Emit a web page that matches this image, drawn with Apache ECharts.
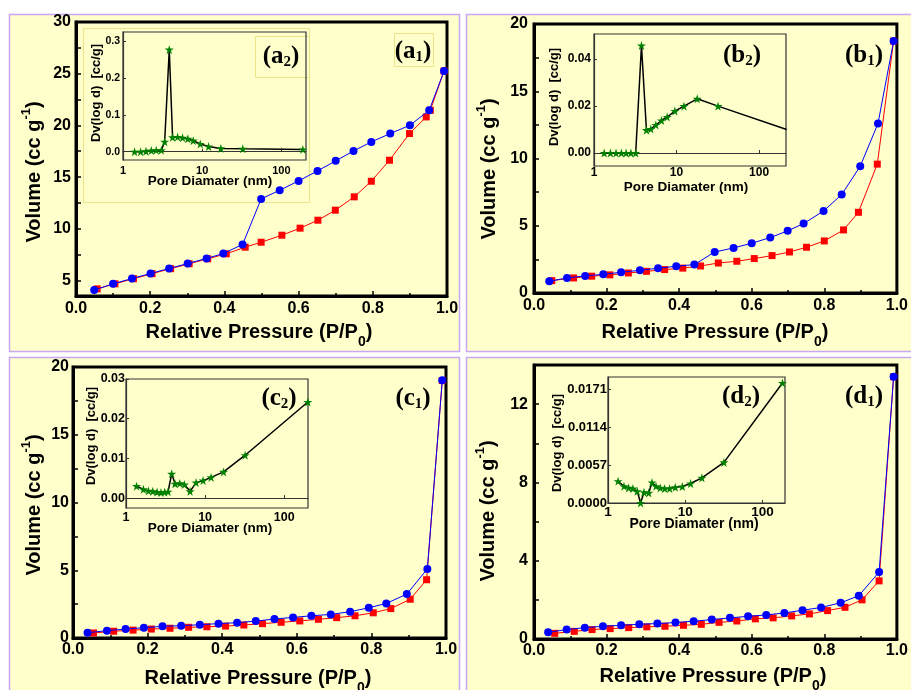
<!DOCTYPE html>
<html><head><meta charset="utf-8">
<script src="https://cdn.jsdelivr.net/npm/echarts@6/dist/echarts.min.js"></script>
<style>html,body{margin:0;padding:0;background:#fff}#c{width:911px;height:690px}</style>
</head><body><div id="c"></div>
<script>
// ---------- Panel (a) ----------
const aPressAds = [0.057,0.105,0.155,0.205,0.255,0.305,0.355,0.405,0.456,0.499,0.555,0.604,0.652,0.699,0.75,0.796,0.845,0.899,0.944,0.955,0.992];
const aVolAds   = [4.19,4.68,5.17,5.66,6.14,6.62,7.10,7.58,8.22,8.70,9.38,10.06,10.83,11.80,13.09,14.60,16.63,19.21,20.82,21.46,25.26];
const aPressDes = [0.049,0.10,0.151,0.201,0.251,0.301,0.352,0.397,0.449,0.499,0.549,0.60,0.651,0.70,0.748,0.796,0.847,0.90,0.952,0.992];
const aVolDes   = [4.07,4.68,5.19,5.68,6.16,6.64,7.13,7.61,8.48,12.89,13.73,14.63,15.60,16.57,17.53,18.40,19.21,20.01,21.46,25.26];
const aPore = [1.40,1.67,1.95,2.28,2.63,3.05,3.36,3.84,4.23,4.9,5.66,6.6,7.71,9.46,12.05,17.2,32.6,187];
const aDv   = [0.000,0.000,0.001,0.003,0.004,0.004,0.027,0.277,0.039,0.040,0.038,0.035,0.030,0.021,0.014,0.009,0.008,0.006];
const aVolLabels = [5,10,15,20,25,30];
const aVolTicks  = [5,7.5,10,12.5,15,17.5,20,22.5,25,27.5,30];
const aDvLabels  = [0,0.1,0.2,0.3];

// ---------- Panel (b) ----------
const bPressAds = [0.049,0.109,0.159,0.209,0.26,0.31,0.36,0.41,0.459,0.508,0.559,0.607,0.656,0.704,0.751,0.80,0.853,0.894,0.946,0.991];
const bVolAds   = [0.92,1.12,1.25,1.35,1.49,1.61,1.74,1.85,2.01,2.23,2.36,2.56,2.78,3.05,3.40,3.87,4.69,6.0,9.58,18.73];
const bPressDes = [0.042,0.091,0.141,0.191,0.24,0.292,0.342,0.392,0.442,0.498,0.55,0.60,0.651,0.699,0.743,0.798,0.848,0.899,0.948,0.991];
const bVolDes   = [0.87,1.12,1.27,1.39,1.54,1.69,1.84,1.99,2.11,3.05,3.35,3.70,4.12,4.62,5.16,6.10,7.32,9.43,12.6,18.73];
const bPore = [1.33,1.58,1.85,2.15,2.45,2.8,3.2,3.76,4.32,4.88,5.61,6.57,7.7,9.55,12.3,17.8,31.8,216];
const bDv   = [0,0,0,0,0,0,0,0.0456,0.0097,0.0102,0.0119,0.0138,0.0153,0.0178,0.0199,0.0230,0.0199,0.0100];
const bVolLabels = [0,5,10,15,20];
const bVolTicks  = [0,2.5,5,7.5,10,12.5,15,17.5,20];
const bDvLabels  = [0,0.02,0.04];

// ---------- Panel (c) ----------
const cPressAds = [0.055,0.109,0.161,0.21,0.26,0.31,0.359,0.409,0.458,0.508,0.558,0.608,0.658,0.707,0.756,0.805,0.852,0.904,0.948,0.99];
const cVolAds   = [0.37,0.50,0.58,0.66,0.72,0.79,0.83,0.88,0.96,1.06,1.16,1.26,1.38,1.50,1.64,1.86,2.17,2.86,4.30,19.0];
const cPressDes = [0.039,0.091,0.141,0.19,0.24,0.29,0.34,0.39,0.44,0.49,0.54,0.59,0.639,0.691,0.743,0.793,0.84,0.895,0.95,0.99];
const cVolDes   = [0.39,0.54,0.66,0.76,0.86,0.91,0.98,1.06,1.13,1.25,1.40,1.52,1.64,1.74,1.94,2.23,2.55,3.24,5.10,19.02];
const cPore = [1.36,1.66,1.92,2.18,2.47,2.77,3.09,3.4,3.78,4.17,4.78,5.47,6.46,7.69,9.43,11.9,17.1,32.1,199];
const cDv   = [0.0030,0.0022,0.0018,0.0017,0.0015,0.0014,0.0015,0.0016,0.0061,0.0036,0.0037,0.0034,0.0017,0.0039,0.0044,0.0052,0.0066,0.0108,0.0242];
const cVolLabels = [0,5,10,15,20];
const cVolTicks  = [0,2.5,5,7.5,10,12.5,15,17.5,20];
const cDvLabels  = [0,0.01,0.02,0.03];

// ---------- Panel (d) ----------
const dPressAds = [0.057,0.111,0.16,0.21,0.261,0.311,0.361,0.412,0.461,0.51,0.559,0.61,0.659,0.71,0.759,0.809,0.857,0.904,0.951,0.991];
const dVolAds   = [0.29,0.39,0.48,0.53,0.58,0.62,0.65,0.70,0.75,0.85,0.92,1.03,1.08,1.18,1.28,1.45,1.62,2.0,2.97,13.4];
const dPressDes = [0.039,0.09,0.14,0.19,0.24,0.29,0.34,0.39,0.44,0.49,0.54,0.59,0.64,0.69,0.74,0.791,0.845,0.895,0.951,0.991];
const dVolDes   = [0.34,0.48,0.58,0.65,0.70,0.75,0.79,0.84,0.91,0.99,1.08,1.16,1.23,1.33,1.47,1.61,1.85,2.21,3.42,13.4];
const dPore = [1.35,1.61,1.85,2.1,2.39,2.64,2.92,3.36,3.71,4.18,4.75,5.41,6.27,7.42,9.15,11.7,16.4,31.6,181];
const dDv   = [0.00327,0.00252,0.00226,0.00216,0.00176,0.0,0.00161,0.00151,0.00307,0.00252,0.00226,0.00216,0.00216,0.00236,0.00247,0.00292,0.00377,0.00609,0.0180];
const dVolLabels = [0,4,8,12];
const dVolTicks  = [0,2,4,6,8,10,12];
const dDvLabels  = [0,0.0057,0.0114,0.0171];

const poreLabels = [1,10,100];
const pressLabels = [0,0.2,0.4,0.6,0.8,1.0];

// ---------- layout ----------
const SANS = '"Liberation Sans", Arial, sans-serif';
const SERIF = '"Liberation Serif", "Times New Roman", serif';
const STAR = 'path://M50,0L61.2,34.5L97.6,34.5L68.2,55.9L79.4,90.5L50,69.1L20.6,90.5L31.8,55.9L2.4,34.5L38.8,34.5Z';
const zip = (a,b)=>a.map((v,i)=>[v,b[i]]);

const panels = [
  {g:[76,22,371,274], yMin:3.5, yMax:30, yl:aVolLabels, yt:aVolTicks, ylm:5, xlm:5,
   ads:[aPressAds,aVolAds], des:[aPressDes,aVolDes],
   ig:[123,32,183,128], ixMax:205, iyMin:-0.0225, iyMax:0.325, iyl:aDvLabels, dec:1, ifs:10.5, ixfs:11, iylm:3, ixlm:5,
   pore:aPore, dv:aDv},
  {g:[534,24,369,269], yMin:0, yMax:20, yl:bVolLabels, yt:bVolTicks, ylm:6, xlm:5,
   ads:[bPressAds,bVolAds], des:[bPressDes,bVolDes],
   ig:[594,34,192,132], ixMax:212, iyMin:-0.0055, iyMax:0.0505, iyl:bDvLabels, dec:2, ifs:12, ixfs:12, iylm:3, ixlm:1,
   pore:bPore, dv:bDv},
  {g:[73,367,373,271], yMin:0, yMax:20, yl:cVolLabels, yt:cVolTicks, ylm:4, xlm:4,
   ads:[cPressAds,cVolAds], des:[cPressDes,cVolDes],
   ig:[126,379,182,129], ixMax:200, iyMin:-0.0025, iyMax:0.03, iyl:cDvLabels, dec:2, ifs:12.5, ixfs:12.5, iylm:1, ixlm:3,
   pore:cPore, dv:cDv},
  {g:[534,365,370,274], yMin:0, yMax:14, yl:dVolLabels, yt:dVolTicks, ylm:6, xlm:4,
   ads:[dPressAds,dVolAds], des:[dPressDes,dVolDes],
   ig:[608,377,177,126], ixMax:195, iyMin:0, iyMax:0.0189, iyl:dDvLabels, dec:4, ifs:13, ixfs:13.5, iylm:1, ixlm:2,
   pore:dPore, dv:dDv}
];

const grid=[], xAxis=[], yAxis=[], series=[];
const lbl = (fs, m) => ({fontFamily:SANS, fontWeight:'bold', fontSize:fs, color:'#000', margin:m});
panels.forEach((p,i)=>{
  grid[i] = {left:p.g[0], top:p.g[1], width:p.g[2], height:p.g[3], show:true, borderColor:'#000', borderWidth:3, backgroundColor:'transparent', containLabel:false};
  xAxis[i] = {type:'value', gridIndex:i, min:0, max:1, interval:0.2,
    axisLine:{lineStyle:{color:'#000', width:3}},
    axisTick:{inside:true, length:5, lineStyle:{color:'#000', width:1.5}},
    minorTick:{show:true, splitNumber:2, length:3, lineStyle:{color:'#000', width:1.5}},
    splitLine:{show:false},
    axisLabel:Object.assign(lbl(16,p.xlm), {formatter:v=>v.toFixed(1), customValues:pressLabels, showMaxLabel:true})};
  yAxis[i] = {type:'value', gridIndex:i, min:p.yMin, max:p.yMax,
    axisLine:{lineStyle:{color:'#000', width:3}},
    axisTick:{inside:true, length:5, customValues:p.yt, lineStyle:{color:'#000', width:1.5}},
    splitLine:{show:false},
    axisLabel:Object.assign(lbl(16,p.ylm), {customValues:p.yl, formatter:v=>String(v)})};
  series.push({type:'line', xAxisIndex:i, yAxisIndex:i, data:zip(p.ads[0],p.ads[1]), symbol:'rect', symbolSize:7,
    itemStyle:{color:'#ff0000'}, lineStyle:{color:'#ff0000', width:1}, z:3, animation:false});
  series.push({type:'line', xAxisIndex:i, yAxisIndex:i, data:zip(p.des[0],p.des[1]), symbol:'circle', symbolSize:8,
    itemStyle:{color:'#0000ff'}, lineStyle:{color:'#0000ff', width:1}, z:4, animation:false});
});
panels.forEach((p,k)=>{
  const i = k+4;
  grid[i] = {left:p.ig[0], top:p.ig[1], width:p.ig[2], height:p.ig[3], show:true, borderColor:'#333', borderWidth:1.2, backgroundColor:'transparent'};
  xAxis[i] = {type:'log', logBase:10, gridIndex:i, min:1, max:p.ixMax,
    axisLine:{lineStyle:{color:'#333', width:1.2}},
    axisTick:{inside:true, length:3, customValues:poreLabels, lineStyle:{color:'#333', width:1}},
    splitLine:{show:false}, minorTick:{show:false},
    axisLabel:Object.assign(lbl(p.ixfs,p.ixlm), {customValues:poreLabels, formatter:v=>String(Math.round(v))})};
  yAxis[i] = {type:'value', gridIndex:i, min:p.iyMin, max:p.iyMax,
    axisLine:{lineStyle:{color:'#333', width:1.2}},
    axisTick:{inside:true, length:3, customValues:p.iyl, lineStyle:{color:'#333', width:1}},
    splitLine:{show:false},
    axisLabel:Object.assign(lbl(p.ifs,p.iylm), {customValues:p.iyl, formatter:v=>v.toFixed(p.dec)})};
  series.push({type:'line', xAxisIndex:i, yAxisIndex:i, data:zip(p.pore,p.dv), symbol:STAR, symbolSize:9, clip:true,
    itemStyle:{color:'#008000'}, lineStyle:{color:'#000', width:1.5}, z:6, animation:false});
});

// ---------- text helpers ----------
const cv = document.createElement('canvas').getContext('2d');
function tw(t,s,fam){ cv.font = 'bold '+s+'px '+fam; return cv.measureText(t).width; }
function comp(parts, cx, cy, rot, fam){
  parts.forEach(p=>p.w=tw(p.t,p.s,fam));
  const tot = parts.reduce((a,p)=>a+p.w,0);
  let x = -tot/2;
  const children = parts.map(p=>{ const el={type:'text', x:x, y:p.dy||0, style:{text:p.t, fontSize:p.s, fontWeight:'bold', fontFamily:fam, fill:'#000', align:'left', verticalAlign:'middle'}}; x+=p.w; return el;});
  return {type:'group', x:cx, y:cy, rotation:rot||0, children:children, z:100};
}
const xTitle = (cx,cy)=>comp([{t:'Relative Pressure (P/P',s:20},{t:'0',s:14,dy:10},{t:')',s:20}],cx,cy,0,SANS);
const yTitle = (cx,cy)=>comp([{t:'Volume (cc g',s:20},{t:'-1',s:13,dy:-8},{t:')',s:20}],cx,cy,Math.PI/2,SANS);
const tag = (l,n,cx,cy)=>comp([{t:'('+l,s:25},{t:n,s:15,dy:5},{t:')',s:25}],cx,cy,0,SERIF);
const poreT = (cx,cy,s)=>comp([{t:'Pore Diamater (nm)',s:s}],cx,cy,0,SANS);
const dvT = (cx,cy)=>comp([{t:'Dv(log d)  [cc/g]',s:13}],cx,cy,Math.PI/2,SANS);

const BG='#ffffcc', BD='#c8a8f0', FAINT='#ebe48c';
const rect=(x,y,w,h,fill,stroke,lw,z)=>({type:'rect', shape:{x:x,y:y,width:w,height:h}, style:{fill:fill, stroke:stroke, lineWidth:lw}, z:z, silent:true});
const graphic = [
  rect(9.5,14.5,450,337,BG,BD,1.5,-10),
  rect(466.5,14.5,460,337,BG,BD,1.5,-10),
  rect(9.5,357.5,450,350,BG,BD,1.5,-10),
  rect(466.5,357.5,460,350,BG,BD,1.5,-10),
  rect(83.5,28.5,226,174,'transparent',FAINT,1,-5),
  rect(394.5,33.5,39,33,'transparent',FAINT,1,-5),
  rect(255.5,36.5,54,41,'transparent',FAINT,1,-5),
  xTitle(259,332), yTitle(34,172),
  xTitle(715,332), yTitle(489,169),
  xTitle(258,678), yTitle(34,505),
  xTitle(713,676), yTitle(488,511),
  tag('a','1',413,52), tag('a','2',281,57),
  tag('b','1',864,56), tag('b','2',742,56),
  tag('c','1',413,399), tag('c','2',279,399),
  tag('d','1',864,397), tag('d','2',741,397),
  poreT(210,181,13.5), dvT(96,93),
  poreT(686,187,13.5), dvT(554,97),
  poreT(210,528,13.5), dvT(91,436),
  poreT(694,524,14), dvT(557,443)
];

const chart = echarts.init(document.getElementById('c'), null, {renderer:'canvas'});
chart.setOption({backgroundColor:'#ffffff', animation:false, grid, xAxis, yAxis, series, graphic:{elements:graphic}});
</script></body></html>
